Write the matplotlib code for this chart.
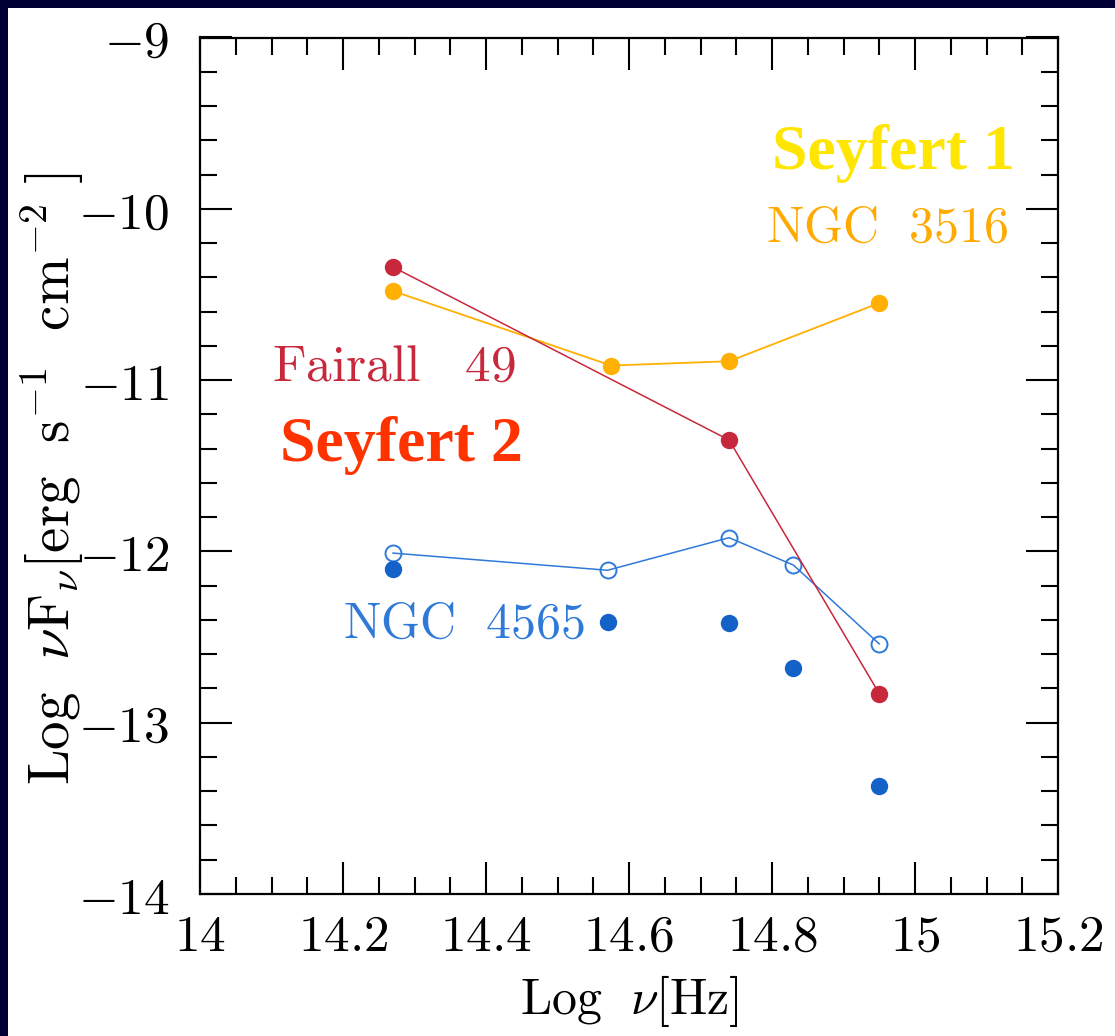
import matplotlib
matplotlib.use("Agg")
import matplotlib.pyplot as plt
from matplotlib.patches import Rectangle
from matplotlib.ticker import MultipleLocator, FixedLocator, FixedFormatter

plt.rcParams['mathtext.fontset'] = 'cm'

# log frequency of the photometric bands
nu_bands = [14.27, 14.57, 14.74, 14.83, 14.95]

# Fairall 49 (Seyfert 2)
fair_x = [14.27, 14.74, 14.95]
fair_y = [-10.34, -11.35, -12.83]

# NGC 3516 (Seyfert 1)
n3516_x = [14.27, 14.575, 14.74, 14.95]
n3516_y = [-10.48, -10.915, -10.89, -10.55]

# NGC 4565, open and filled points
n4565_open = [-12.01, -12.11, -11.92, -12.08, -12.54]
n4565_fill = [-12.10, -12.41, -12.42, -12.68, -13.37]

xticks = [14, 14.2, 14.4, 14.6, 14.8, 15, 15.2]
xticklabels = ['14', '14.2', '14.4', '14.6', '14.8', '15', '15.2']
yticks = [-14, -13, -12, -11, -10, -9]
yticklabels = ['-14', '-13', '-12', '-11', '-10', '-9']

RED = '#c8283c'
ORANGE = '#ffb000'
BLUE = '#1462c8'
BLUE_LINE = '#2f7ad8'

fig = plt.figure(figsize=(11.15, 10.36), dpi=100)
fig.patch.set_facecolor('#000035')
# white panel inside the navy border
fig.patches.append(Rectangle((8 / 1115, 0), 1 - 8 / 1115, 1 - 8 / 1036,
                             transform=fig.transFigure, facecolor='white',
                             edgecolor='none', zorder=-10))

ax = fig.add_axes([200 / 1115, 1 - 894 / 1036, 858 / 1115, (894 - 37.5) / 1036])
ax.set_facecolor('white')

ax.plot(n3516_x, n3516_y, '-o', color=ORANGE, lw=1.3, ms=11.5, mec=ORANGE, zorder=3)
ax.plot(nu_bands, n4565_open, '-o', color=BLUE_LINE, lw=1.1, ms=11.5,
        mfc='none', mec=BLUE_LINE, mew=1.4, zorder=3)
ax.plot(nu_bands, n4565_fill, 'o', color=BLUE, ms=11.5, zorder=3)
ax.plot(fair_x, fair_y, '-o', color=RED, lw=1.1, ms=11.5, mec=RED, zorder=4)

ax.set_xlim(14, 15.2)
ax.set_ylim(-14, -9)

ax.xaxis.set_major_locator(FixedLocator(xticks))
ax.xaxis.set_major_formatter(FixedFormatter(['$' + s + '$' for s in xticklabels]))
ax.xaxis.set_minor_locator(MultipleLocator(0.05))
ax.yaxis.set_major_locator(FixedLocator(yticks))
ax.yaxis.set_major_formatter(FixedFormatter(['$' + s + '$' for s in yticklabels]))
ax.yaxis.set_minor_locator(MultipleLocator(0.2))

ax.tick_params(which='both', direction='in', top=True, right=True, width=1.5, colors='black')
ax.tick_params(which='major', length=23, labelsize=37)
ax.tick_params(which='minor', length=12)
ax.tick_params(axis='x', which='major', pad=13)
ax.tick_params(axis='y', which='major', pad=22)
for sp in ax.spines.values():
    sp.set_linewidth(1.6)
    sp.set_color('black')

ax.set_xlabel(r'$\mathrm{Log}\ \ \nu[\mathrm{Hz}]$', fontsize=36, labelpad=8)
ax.set_ylabel(r'$\mathrm{Log}\ \ \nu \mathrm{F}_{\nu}[\mathrm{erg\ \ s}^{-1}\ \ \mathrm{cm}^{-2}\ ]$',
              fontsize=41)
ax.yaxis.set_label_coords(-0.133, 0.485)

# labels for the sources
ax.text(15.14, -9.68, 'Seyfert 1', color='#ffe600', fontsize=46, fontweight='bold',
        family='Liberation Serif', ha='right', va='center')
ax.text(15.13, -10.11, r'$\mathrm{NGC\ \ 3516}$', color='#ffaa00', fontsize=36,
        ha='right', va='center')
ax.text(14.1, -10.92, r'$\mathrm{Fairall\ \ \ 49}$', color=RED, fontsize=37,
        ha='left', va='center')
ax.text(14.112, -11.38, 'Seyfert 2', color='#ff3300', fontsize=46, fontweight='bold',
        family='Liberation Serif', ha='left', va='center')
ax.text(14.2, -12.42, r'$\mathrm{NGC\ \ 4565}$', color=BLUE_LINE, fontsize=36,
        ha='left', va='center')

fig.savefig('out.png', dpi=100, facecolor=fig.get_facecolor())
